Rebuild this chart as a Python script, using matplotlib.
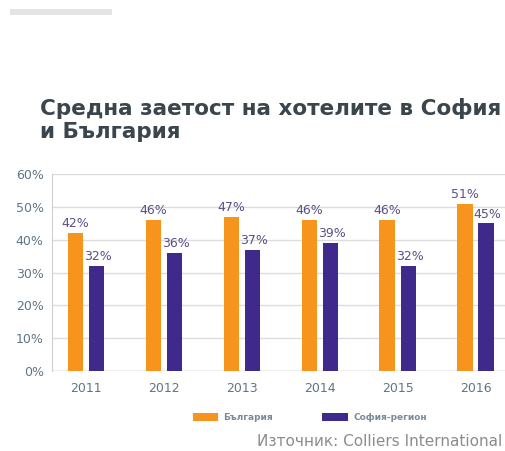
import matplotlib
matplotlib.use("Agg")
import matplotlib.pyplot as plt
import numpy as np
from matplotlib.patches import Rectangle

plt.rcParams['font.family'] = ['DejaVu Sans']

years = ['2011', '2012', '2013', '2014', '2015', '2016']
bulgaria = [42, 46, 47, 46, 46, 51]
sofia = [32, 36, 37, 39, 32, 45]
yticks = [0, 10, 20, 30, 40, 50, 60]

orange = '#f7941d'
purple = '#3f2a8c'
label_col = '#5a4f86'
axis_col = '#5f7585'

fig = plt.figure(figsize=(5.05, 4.51), dpi=100, facecolor='white')

# faint remains of the page header
fig.patches.append(Rectangle((10 / 505, 1 - 15 / 451), 102 / 505, 6 / 451,
                             transform=fig.transFigure, color='#e4e4e4', lw=0))

fig.text(40 / 505, 1 - 120 / 451, 'Средна заетост на хотелите в София\nи България',
         fontsize=15.5, fontweight='bold', color='#3b454c', va='center', ha='left',
         linespacing=1.15)

ax = fig.add_axes([52 / 505, 80 / 451, 453 / 505, 197 / 451])
x = np.arange(len(years))
w = 0.195
off = 0.135
ax.bar(x - off, bulgaria, w, color=orange, zorder=3)
ax.bar(x + off, sofia, w, color=purple, zorder=3)

for i in range(len(years)):
    ax.text(x[i] - off, bulgaria[i] + 0.8, f'{bulgaria[i]}%', ha='center', va='bottom',
            fontsize=9, color=label_col, zorder=4)
    ax.text(x[i] + off + 0.02, sofia[i] + 0.8, f'{sofia[i]}%', ha='center', va='bottom',
            fontsize=9, color=label_col, zorder=4)

ax.set_xlim(-0.4365, 5.379)
ax.set_ylim(0, 60)
ax.set_yticks(yticks)
ax.set_yticklabels([f'{v}%' for v in yticks])
ax.set_xticks(x)
ax.set_xticklabels(years)
ax.tick_params(axis='both', length=0, labelsize=9, labelcolor=axis_col)
ax.tick_params(axis='x', pad=8)
ax.tick_params(axis='y', pad=6)
ax.yaxis.grid(True, color='#dcdcdc', lw=1.0, zorder=0)
for s in ['top', 'right', 'bottom']:
    ax.spines[s].set_visible(False)
ax.spines['left'].set_color('#d0d0d0')
ax.axhline(0, color='#c8c8c8', lw=1.0, zorder=2)

# legend
fig.patches.append(Rectangle((193 / 505, 1 - 421 / 451), 25 / 505, 8 / 451,
                             transform=fig.transFigure, color=orange, lw=0))
fig.text(223 / 505, 1 - 417 / 451, 'България', fontsize=6.5, fontweight='bold',
         color='#7a8a98', va='center', ha='left')
fig.patches.append(Rectangle((322 / 505, 1 - 421 / 451), 26 / 505, 8 / 451,
                             transform=fig.transFigure, color=purple, lw=0))
fig.text(353 / 505, 1 - 417 / 451, 'София-регион', fontsize=6.5, fontweight='bold',
         color='#7a8a98', va='center', ha='left')

fig.text(502 / 505, 1 - 442 / 451, 'Източник: Colliers International', fontsize=11,
         color='#8c8c8c', va='center', ha='right')

fig.savefig('out.png', dpi=100, facecolor='white')
